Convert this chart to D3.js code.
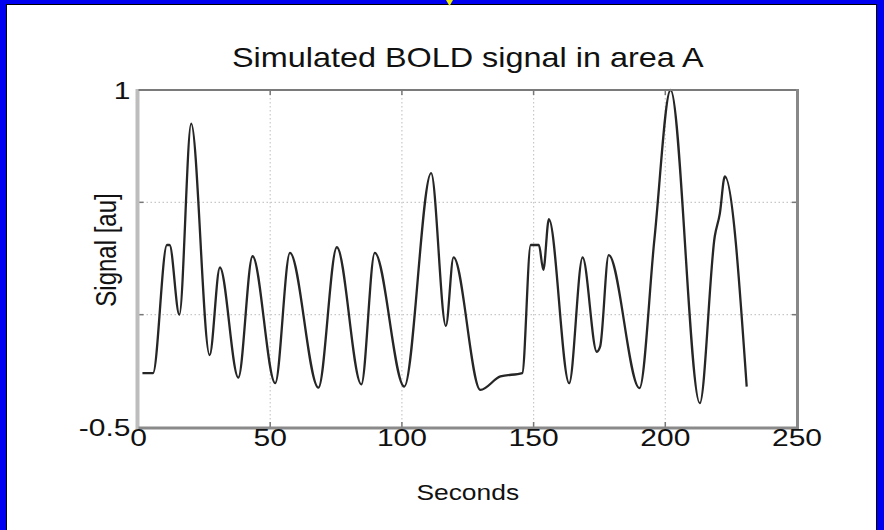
<!DOCTYPE html>
<html>
<head>
<meta charset="utf-8">
<script src="https://cdn.jsdelivr.net/npm/d3@7"></script>
<style>
  html, body { margin: 0; padding: 0; background: #fff; }
  svg { display: block; }
</style>
</head>
<body>
<svg id="chart" width="884" height="530"></svg>
<script>
// ---- data ----
const titleText = "Simulated BOLD signal in area A";
const xLabelText = "Seconds";
const yLabelText = "Signal [au]";
const xTicks = [0, 50, 100, 150, 200, 250];
const xTickLabels = ["0", "50", "100", "150", "200", "250"];
const yTicks = [-0.5, 0, 0.5, 1];
const yTickLabels = ["-0.5", "", "", "1"];
const xGrid = [50, 100, 150, 200];
const yGrid = [0, 0.5];
const seconds = [1.5, 5.5, 10.8, 11.8, 15.5, 20.0, 27.0, 30.9, 37.9, 43.3, 51.9, 57.5, 68.3, 75.3, 84.6, 89.7, 100.9,
  111.1, 116.7, 119.6, 129.8, 137.4, 145.7, 148.9, 152.0, 153.7, 155.8, 163.5, 168.6, 174.0, 175.3, 178.5,
  190.2, 195.9, 202.0, 213.1, 218.8, 220.7, 222.6, 230.9];
const signal = [-0.26, -0.26, 0.31, 0.31, 0.0, 0.85, -0.18, 0.21, -0.28, 0.26, -0.305, 0.275, -0.325, 0.30, -0.31, 0.275, -0.32,
  0.63, -0.05, 0.255, -0.335, -0.275, -0.26, 0.31, 0.31, 0.20, 0.425, -0.305, 0.255, -0.165, -0.14, 0.265,
  -0.327, 0.34, 1.0, -0.394, 0.35, 0.45, 0.615, -0.32];

// ---- layout ----
const W = 884, H = 530;
const plot = { left: 138.5, right: 797, top: 90, bottom: 427 };
const svg = d3.select("#chart");

// window frame (blue border)
svg.append("rect").attr("x", 0).attr("y", 0).attr("width", W).attr("height", H).attr("fill", "#0000f0");
svg.append("rect").attr("x", 6).attr("y", 4).attr("width", W - 13).attr("height", H).attr("fill", "#000");
svg.append("rect").attr("x", 7).attr("y", 5).attr("width", W - 15).attr("height", H).attr("fill", "#fff");
svg.append("path").attr("d", "M446,0 L453,0 L449.5,6 Z").attr("fill", "#f0f000");

const x = d3.scaleLinear().domain([0, 250]).range([plot.left, plot.right]);
const y = d3.scaleLinear().domain([-0.5, 1]).range([plot.bottom, plot.top]);

// grid
const g = svg.append("g");
g.selectAll(".vg").data(xGrid).enter().append("line")
  .attr("x1", d => x(d)).attr("x2", d => x(d)).attr("y1", plot.top).attr("y2", plot.bottom)
  .attr("stroke", "#c8c8c8").attr("stroke-width", 1.2).attr("stroke-dasharray", "1.5,2.5");
g.selectAll(".hg").data(yGrid).enter().append("line")
  .attr("y1", d => y(d)).attr("y2", d => y(d)).attr("x1", plot.left).attr("x2", plot.right)
  .attr("stroke", "#c8c8c8").attr("stroke-width", 1.2).attr("stroke-dasharray", "1.5,2.5");

// tick marks (inside, all four sides)
const tl = 5;
const inner = [1, 2, 3, 4].map(i => xTicks[i]);
g.selectAll(".tb").data(inner).enter().append("line")
  .attr("x1", d => x(d)).attr("x2", d => x(d)).attr("y1", plot.bottom).attr("y2", plot.bottom - tl)
  .attr("stroke", "#777").attr("stroke-width", 1.5);
g.selectAll(".tt").data(inner).enter().append("line")
  .attr("x1", d => x(d)).attr("x2", d => x(d)).attr("y1", plot.top).attr("y2", plot.top + tl)
  .attr("stroke", "#777").attr("stroke-width", 1.5);
g.selectAll(".tlft").data(yGrid).enter().append("line")
  .attr("y1", d => y(d)).attr("y2", d => y(d)).attr("x1", plot.left).attr("x2", plot.left + tl)
  .attr("stroke", "#777").attr("stroke-width", 1.5);
g.selectAll(".trt").data(yGrid).enter().append("line")
  .attr("y1", d => y(d)).attr("y2", d => y(d)).attr("x1", plot.right).attr("x2", plot.right - tl)
  .attr("stroke", "#777").attr("stroke-width", 1.5);

// signal line
const pts = seconds.map((s, i) => [s, signal[i]]);
const line = d3.line().x(d => x(d[0])).y(d => y(d[1])).curve(d3.curveMonotoneX);
svg.append("path").datum(pts).attr("d", line)
  .attr("fill", "none").attr("stroke", "#262626").attr("stroke-width", 2.3).attr("stroke-linejoin", "round");

// axes box
svg.append("line").attr("x1", plot.left - 1).attr("x2", plot.left - 1).attr("y1", plot.top - 1).attr("y2", plot.bottom + 2)
  .attr("stroke", "#bdbdbd").attr("stroke-width", 4);
svg.append("line").attr("x1", plot.left).attr("x2", plot.right + 1.5).attr("y1", plot.top).attr("y2", plot.top)
  .attr("stroke", "#7a7a7a").attr("stroke-width", 2);
svg.append("line").attr("x1", plot.left).attr("x2", plot.right + 1.5).attr("y1", plot.bottom + 1).attr("y2", plot.bottom + 1)
  .attr("stroke", "#8a8a8a").attr("stroke-width", 3);
svg.append("line").attr("x1", plot.right + 0.5).attr("x2", plot.right + 0.5).attr("y1", plot.top - 1).attr("y2", plot.bottom + 2)
  .attr("stroke", "#888").attr("stroke-width", 3);

// text helper (the reference is stretched horizontally)
function txt(px, py, s, size, anchor, sx, rot) {
  const t = svg.append("text")
    .attr("transform", `translate(${px},${py}) rotate(${rot || 0}) scale(${sx},1)`)
    .attr("text-anchor", anchor)
    .attr("font-family", "'Liberation Sans', Arial, sans-serif")
    .attr("font-size", size)
    .attr("fill", "#111")
    .text(s);
  return t;
}

// tick labels
xTicks.forEach((v, i) => txt(x(v), 446, xTickLabels[i], 24, "middle", 1.25));
yTicks.forEach((v, i) => { if (yTickLabels[i]) txt(plot.left - 8, y(v) + 9, yTickLabels[i], 24, "end", 1.25); });

// title & axis labels
txt((plot.left + plot.right) / 2, 67, titleText, 27, "middle", 1.2);
txt((plot.left + plot.right) / 2, 500, xLabelText, 22, "middle", 1.2);
svg.append("text")
  .attr("transform", `translate(116,250) rotate(-90) scale(1,1.2)`)
  .attr("text-anchor", "middle")
  .attr("font-family", "'Liberation Sans', Arial, sans-serif")
  .attr("font-size", 24)
  .attr("fill", "#111")
  .text(yLabelText);
</script>
</body>
</html>
